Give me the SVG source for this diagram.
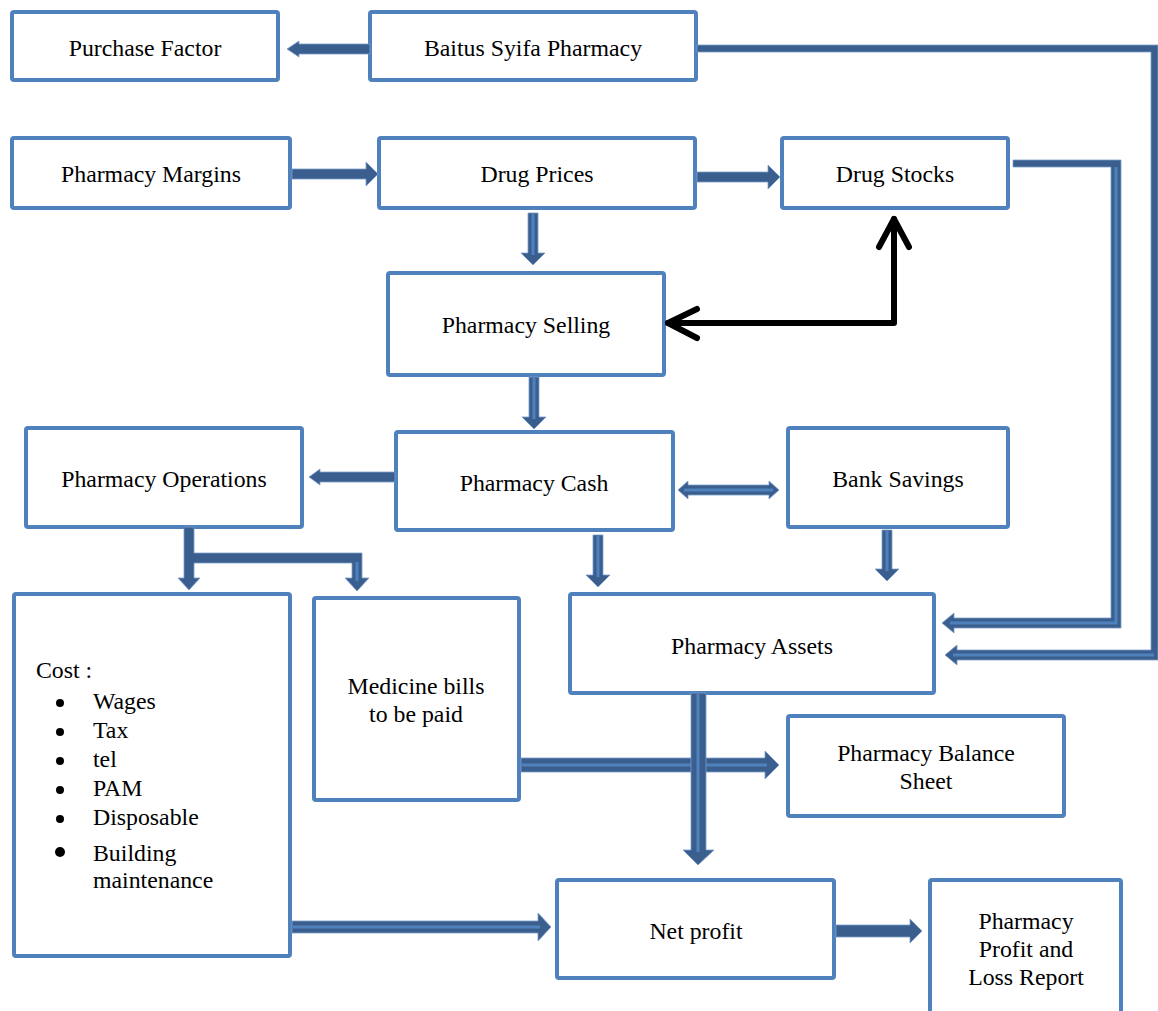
<svg xmlns="http://www.w3.org/2000/svg" width="1158" height="1011" viewBox="0 0 1158 1011">
<style>
.box{fill:#fff;stroke:#4f81bd;stroke-width:4}
.t{font-family:"Liberation Serif","Times New Roman",serif;font-size:23.8px;fill:#000;text-anchor:middle}
.tl{font-family:"Liberation Serif","Times New Roman",serif;font-size:23.8px;fill:#000}
.a{fill:#3a5f8f;stroke:#7c9cc9;stroke-width:0.8;stroke-linejoin:round}
.c{fill:none;stroke:#4f81bd;stroke-width:3}
.k{fill:none;stroke:#000;stroke-width:6;stroke-linecap:round;stroke-linejoin:round}
</style>
<rect width="1158" height="1011" fill="#fff"/>
<g id="n-purchase"><rect class="box" x="12" y="12" width="266" height="68" rx="2"/><text class="t" x="145" y="56">Purchase Factor</text></g>
<g id="n-baitus"><rect class="box" x="370" y="12" width="326" height="68" rx="2"/><text class="t" x="533" y="56">Baitus Syifa Pharmacy</text></g>
<g id="n-margins"><rect class="box" x="12" y="138" width="278" height="70" rx="2"/><text class="t" x="151" y="182">Pharmacy Margins</text></g>
<g id="n-prices"><rect class="box" x="379" y="138" width="316" height="70" rx="2"/><text class="t" x="537" y="182">Drug Prices</text></g>
<g id="n-stocks"><rect class="box" x="782" y="138" width="226" height="70" rx="2"/><text class="t" x="895" y="182">Drug Stocks</text></g>
<g id="n-selling"><rect class="box" x="388" y="273" width="276" height="102" rx="2"/><text class="t" x="526" y="333">Pharmacy Selling</text></g>
<g id="n-operations"><rect class="box" x="26" y="428" width="276" height="99" rx="2"/><text class="t" x="164" y="487">Pharmacy Operations</text></g>
<g id="n-cash"><rect class="box" x="396" y="432" width="277" height="98" rx="2"/><text class="t" x="534" y="491">Pharmacy Cash</text></g>
<g id="n-bank"><rect class="box" x="788" y="428" width="220" height="99" rx="2"/><text class="t" x="898" y="487">Bank Savings</text></g>
<g id="n-cost"><rect class="box" x="14" y="594" width="276" height="362" rx="2"/>
<text class="tl" x="36" y="678">Cost :</text>
<circle cx="60" cy="703" r="4"/><text class="tl" x="93" y="709">Wages</text>
<circle cx="60" cy="732" r="4"/><text class="tl" x="93" y="738">Tax</text>
<circle cx="60" cy="761" r="4"/><text class="tl" x="93" y="767">tel</text>
<circle cx="60" cy="790" r="4"/><text class="tl" x="93" y="796">PAM</text>
<circle cx="60" cy="819" r="4"/><text class="tl" x="93" y="825">Disposable</text>
<circle cx="60" cy="852" r="5"/><text class="tl" x="93" y="861">Building</text>
<text class="tl" x="93" y="888">maintenance</text>
</g>
<g id="n-bills"><rect class="box" x="314" y="598" width="205" height="202" rx="2"/><text class="t" x="416" y="694">Medicine bills</text><text class="t" x="416" y="722">to be paid</text></g>
<g id="n-assets"><rect class="box" x="570" y="594" width="364" height="99" rx="2"/><text class="t" x="752" y="654">Pharmacy Assets</text></g>
<g id="n-balance"><rect class="box" x="788" y="716" width="276" height="100" rx="2"/><text class="t" x="926" y="761">Pharmacy Balance</text><text class="t" x="926" y="789">Sheet</text></g>
<g id="n-net"><rect class="box" x="557" y="880" width="277" height="98" rx="2"/><text class="t" x="696" y="939">Net profit</text></g>
<g id="n-report"><rect class="box" x="930" y="880" width="191" height="140" rx="2"/><text class="t" x="1026" y="929">Pharmacy</text><text class="t" x="1026" y="957">Profit and</text><text class="t" x="1026" y="985">Loss Report</text></g>
<g id="connectors">
<polygon class="a" points="370,44 299,44 299,41 287,49 299,57 299,54 370,54"/>
<polygon class="a" points="292,169 366,169 366,162 378,174 366,186 366,179 292,179"/>
<polygon class="a" points="697,172 768,172 768,165 780,177 768,189 768,182 697,182"/>
<polygon class="a" points="528,213 538,213 538,253 545,253 533,265 521,253 528,253"/><path class="c" d="M533,214 L533,255" stroke-width="2"/>
<polygon class="a" points="529,377 539,377 539,417 546,417 534,429 522,417 529,417"/><path class="c" d="M534,378 L534,419" stroke-width="2"/>
<polygon class="a" points="395,472 320,472 320,469 309,477 320,485 320,482 395,482"/>
<polygon class="a" points="678,490 688,481 688,485 769,485 769,481 779,490 769,499 769,495 688,495 688,499"/><path class="c" d="M684,490 L773,490" stroke-width="2"/>
<polygon class="a" points="184,527 194,527 194,553 362,553 362,578 369,578 357,591 345,578 352,578 352,563 194,563 194,578 200,578 189,590 178,578 184,578"/><path class="c" d="M357,562 L357,581" stroke-width="2"/>
<polygon class="a" points="593,535 603,535 603,575 610,575 598,587 586,575 593,575"/><path class="c" d="M598,536 L598,577" stroke-width="2"/>
<polygon class="a" points="882,530 892,530 892,569 899,569 887,581 875,569 882,569"/><path class="c" d="M887,531 L887,571" stroke-width="2"/>
<polygon class="a" points="1013,160 1121,160 1121,628 954,628 954,633 942,623 954,613 954,618 1111,618 1111,167 1013,167"/><path class="c" d="M1116,167 L1116,623 L950,623" stroke-width="2"/>
<polygon class="a" points="697,45 1158,45 1158,660 957,660 957,665 945,655 957,645 957,650 1151,650 1151,52 697,52"/><path class="c" d="M1154,655 L953,655" stroke-width="2"/>
<polygon class="a" points="521,758 765,758 765,751 779,765 765,779 765,772 521,772"/><path class="c" d="M522,765 L767,765" stroke-width="5"/>
<polygon class="a" points="691,693 706,693 706,850 714,850 698,865 683,850 691,850"/><path class="c" d="M698,694 L698,852" stroke-width="5"/>
<polygon class="a" points="292,921 538,921 538,913 551,927 538,941 538,933 292,933"/><path class="c" d="M293,927 L540,927" stroke-width="4"/>
<polygon class="a" points="836,925 910,925 910,919 922,931 910,943 910,937 836,937"/>
<path class="k" d="M668,323 L894,323 L894,219"/>
<path class="k" d="M697,309 L668,323 L697,338"/>
<path class="k" d="M879,247 L894,219 L909,247"/>
</g>
</svg>
